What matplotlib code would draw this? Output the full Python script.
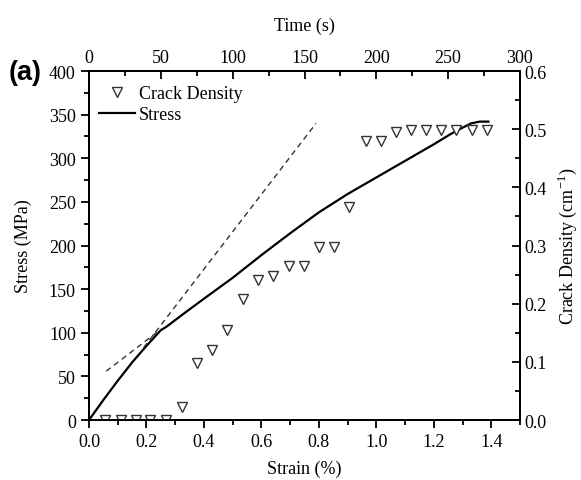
import numpy as np
import matplotlib
matplotlib.use('Agg')
import matplotlib.pyplot as plt
from matplotlib.ticker import MultipleLocator

plt.rc('font', family='Liberation Serif', size=13)
plt.rc('axes', linewidth=1.3)
plt.rc('xtick.major', size=6, width=1.3)
plt.rc('ytick.major', size=6, width=1.3)
plt.rc('xtick.minor', size=3.5, width=1.3)
plt.rc('ytick.minor', size=3.5, width=1.3)

# stress-strain curve
strain = [0.0, 0.05, 0.10, 0.15, 0.20, 0.25, 0.27, 0.33, 0.40, 0.50, 0.60,
          0.70, 0.80, 0.90, 1.00, 1.10, 1.20, 1.26, 1.30, 1.33, 1.36, 1.39]
stress = [0, 23, 45, 66, 85, 103, 107, 122, 139, 163, 189,
          214, 238, 259, 278, 297, 316, 328, 335, 340, 342, 342]

# crack density points
cd_strain = [0.056, 0.110, 0.162, 0.214, 0.267, 0.322, 0.376, 0.427, 0.482,
             0.535, 0.588, 0.640, 0.695, 0.747, 0.800, 0.854, 0.906, 0.963,
             1.017, 1.069, 1.121, 1.173, 1.225, 1.279, 1.333, 1.385]
cd = [0.0, 0.0, 0.0, 0.0, 0.0, 0.022, 0.098, 0.121, 0.154,
      0.208, 0.241, 0.248, 0.264, 0.264, 0.298, 0.298, 0.367, 0.480,
      0.480, 0.496, 0.498, 0.498, 0.498, 0.498, 0.498, 0.498]

# tangent (dashed) lines
tan1_x, tan1_y = [0.06, 0.25], [56, 104]
tan2_x, tan2_y = [0.19, 0.79], [83, 340]

fig = plt.figure(figsize=(5.81, 4.81), dpi=100)
ax = fig.add_axes([0.1532, 0.1247, 0.7418, 0.7256])

ln, = ax.plot(strain, stress, color='black', lw=1.6, label='Stress')
ax.plot(tan1_x, tan1_y, color='#333333', lw=1, ls=(0, (4, 3)))
ax.plot(tan2_x, tan2_y, color='#333333', lw=1, ls=(0, (4, 3)))

ax.set_xlim(0, 1.5)
ax.set_ylim(0, 400)
ax.xaxis.set_major_locator(MultipleLocator(0.2))
ax.xaxis.set_minor_locator(MultipleLocator(0.1))
ax.yaxis.set_major_locator(MultipleLocator(50))
ax.yaxis.set_minor_locator(MultipleLocator(25))
ax.xaxis.set_major_formatter(plt.FuncFormatter(lambda v, p: '%.1f' % v if v < 1.45 else ''))
ax.tick_params(which='both', direction='out', top=False, right=False)
ax.set_xlabel('Strain (%)', labelpad=7)
ax.set_ylabel('Stress (MPa)', labelpad=12)

ax2 = ax.twinx()
pts, = ax2.plot(cd_strain, cd, ls='none', marker='v', ms=7.5,
                mfc='white', mec='#333333', mew=1, label='Crack Density')
ax2.set_ylim(0, 0.6)
ax2.yaxis.set_major_locator(MultipleLocator(0.1))
ax2.yaxis.set_minor_locator(MultipleLocator(0.05))
ax2.yaxis.set_major_formatter(plt.FuncFormatter(lambda v, p: '%.1f' % v))
ax2.tick_params(which='both', direction='in')
ax2.set_ylabel('Crack Density (cm$^{\\mathregular{-1}}$)', labelpad=6)

ax3 = ax.twiny()
ax3.set_xlim(0, 300)
ax3.xaxis.set_major_locator(MultipleLocator(50))
ax3.xaxis.set_minor_locator(MultipleLocator(25))
ax3.tick_params(which='both', direction='in')
ax3.set_xlabel('Time (s)', labelpad=14)

leg = ax.legend([pts, ln], ['Crack Density', 'Stress'], loc='upper left',
                frameon=False, handlelength=2.0, handletextpad=0.2,
                labelspacing=0.2, borderaxespad=0.4, bbox_to_anchor=(-0.01, 1.0))

fig.text(0.015, 0.848, '(a)', fontsize=19.5, fontweight='bold',
         family='Liberation Sans', va='center')

fig.savefig('out.png', dpi=100)
